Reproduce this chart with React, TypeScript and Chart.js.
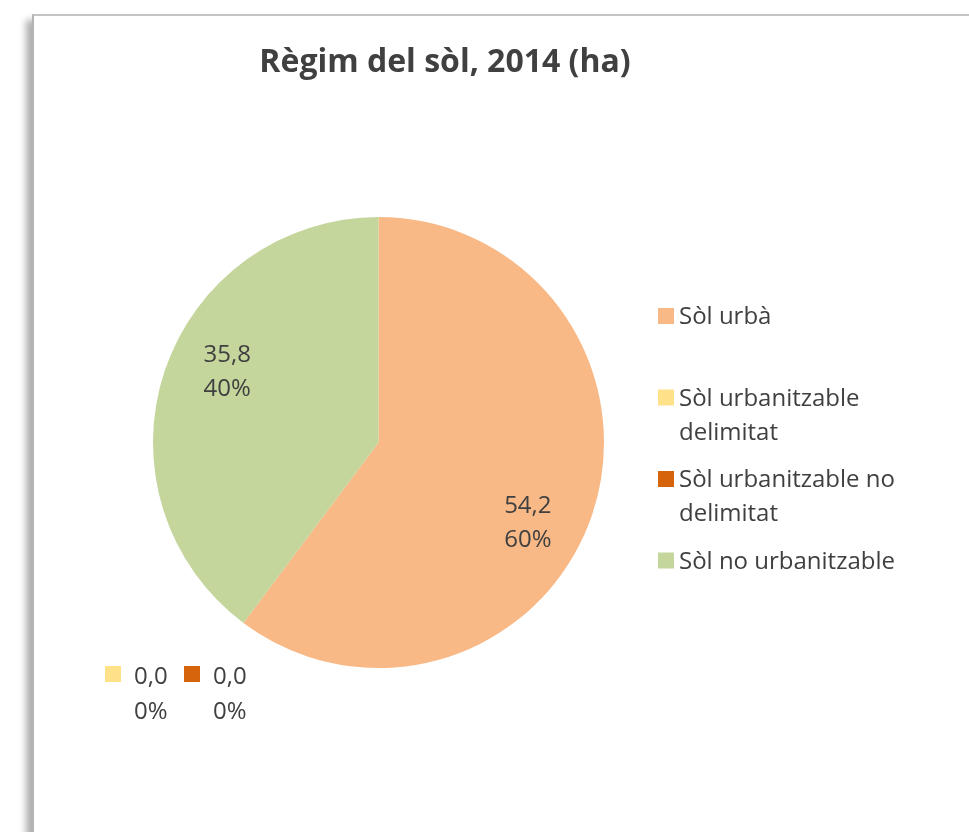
import React, { useEffect, useRef } from "react";
import { Chart, registerables } from "chart.js";

Chart.register(...registerables);

// ---- data ----
const TITLE = "Règim del sòl, 2014 (ha)";
const CATEGORIES = [
  "Sòl urbà",
  "Sòl urbanitzable delimitat",
  "Sòl urbanitzable no delimitat",
  "Sòl no urbanitzable",
];
const VALUES = [54.2, 0.0, 0.0, 35.8];
const COLORS = ["#F8B986", "#FEE189", "#D5640D", "#C4D69C"];

// ---- styles ----
const TEXT_COLOR = "#404040";
const FONT = "'Open Sans', 'Noto Sans', sans-serif";
const W = 969;
const H = 832;

const fmt = (v: number) => v.toFixed(1).replace(".", ",");

// per-slice nudges for the "best fit" label placement (pixels)
const LABEL_NUDGE: Record<number, { dx: number; dy: number }> = {
  0: { dx: -9, dy: 26 },
  3: { dx: 7, dy: -19 },
};

function wrap(ctx: CanvasRenderingContext2D, text: string, maxW: number): string[] {
  const words = text.split(" ");
  const lines: string[] = [];
  let cur = "";
  for (const w of words) {
    const t = cur ? cur + " " + w : w;
    if (ctx.measureText(t).width > maxW && cur) {
      lines.push(cur);
      cur = w;
    } else cur = t;
  }
  if (cur) lines.push(cur);
  return lines;
}

const decorPlugin = {
  id: "decor",
  afterDraw(chart: any) {
    const ctx: CanvasRenderingContext2D = chart.ctx;
    const area = chart.chartArea;
    const ds = chart.data.datasets[0];
    const vals: number[] = ds.data;
    const total = vals.reduce((a, b) => a + b, 0);
    const meta = chart.getDatasetMeta(0);
    ctx.save();
    ctx.fillStyle = TEXT_COLOR;

    // title
    ctx.font = `bold 32px ${FONT}`;
    ctx.textAlign = "center";
    ctx.textBaseline = "alphabetic";
    ctx.fillText(TITLE, 445, 72);

    // data labels for non-zero slices
    ctx.font = `24px ${FONT}`;
    const lineGap = 34;
    vals.forEach((v, i) => {
      if (v <= 0) return;
      const arc = meta.data[i];
      const p = arc.getProps(["x", "y", "startAngle", "endAngle", "outerRadius"], true);
      const mid = (p.startAngle + p.endAngle) / 2;
      const r = p.outerRadius * 0.74;
      const n = LABEL_NUDGE[i] || { dx: 0, dy: 0 };
      const cx = p.x + r * Math.cos(mid) + n.dx;
      const cy = p.y + r * Math.sin(mid) + n.dy;
      const pct = Math.round((v / total) * 100) + "%";
      ctx.textAlign = "center";
      ctx.fillText(fmt(v), cx, cy - lineGap / 2 + 8.5);
      ctx.fillText(pct, cx, cy + lineGap / 2 + 8.5);
    });

    // zero-value labels (pushed out below-left of the pie, with keys)
    let k = 0;
    vals.forEach((v, i) => {
      if (v > 0) return;
      const bx = area.left - 48 + k * 79;
      const by = area.bottom - 2;
      ctx.fillStyle = ds.backgroundColor[i];
      ctx.fillRect(bx, by, 16, 16);
      ctx.fillStyle = TEXT_COLOR;
      ctx.textAlign = "left";
      const pct = Math.round((v / total) * 100) + "%";
      ctx.fillText(fmt(v), bx + 29, by + 18);
      ctx.fillText(pct, bx + 29, by + 18 + 35);
      k++;
    });

    // legend
    ctx.font = `24px ${FONT}`;
    ctx.textAlign = "left";
    const lx = 658;
    const firstBase = 324;
    const pitch = 81.5;
    const lineH = 34;
    (chart.data.labels as string[]).forEach((lab, i) => {
      const base = firstBase + i * pitch;
      ctx.fillStyle = ds.backgroundColor[i];
      ctx.fillRect(lx, base - 16, 16, 16);
      ctx.fillStyle = TEXT_COLOR;
      const lines = wrap(ctx, lab, 235);
      lines.forEach((ln, j) => ctx.fillText(ln, lx + 21, base + j * lineH));
    });

    ctx.restore();
  },
};

export default function App() {
  const ref = useRef<HTMLCanvasElement | null>(null);
  useEffect(() => {
    if (!ref.current) return;
    const chart = new Chart(ref.current, {
      type: "pie",
      data: {
        labels: CATEGORIES,
        datasets: [
          {
            data: VALUES,
            backgroundColor: COLORS,
            borderWidth: 0,
          },
        ],
      },
      options: {
        responsive: false,
        animation: false,
        layout: { padding: { left: 153, right: 365, top: 217, bottom: 164 } },
        plugins: {
          legend: { display: false },
          title: { display: false },
          tooltip: { enabled: false },
        },
      },
      plugins: [decorPlugin],
    } as any);
    return () => chart.destroy();
  }, []);

  return (
    <div
      style={{
        position: "absolute",
        left: 0,
        top: 0,
        width: W,
        height: H,
        background: "#ffffff",
        overflow: "hidden",
      }}
    >
      <div
        style={{
          position: "absolute",
          left: 32,
          top: 14,
          width: W,
          height: H,
          background: "#ffffff",
          borderTop: "2px solid #C4C4C4",
          borderLeft: "2px solid #B4B4B4",
          boxShadow: "-6px 6px 7px rgba(0,0,0,0.32)",
        }}
      />
      <canvas
        ref={ref}
        width={W}
        height={H}
        style={{ position: "absolute", left: 0, top: 0, width: W, height: H }}
      />
    </div>
  );
}
